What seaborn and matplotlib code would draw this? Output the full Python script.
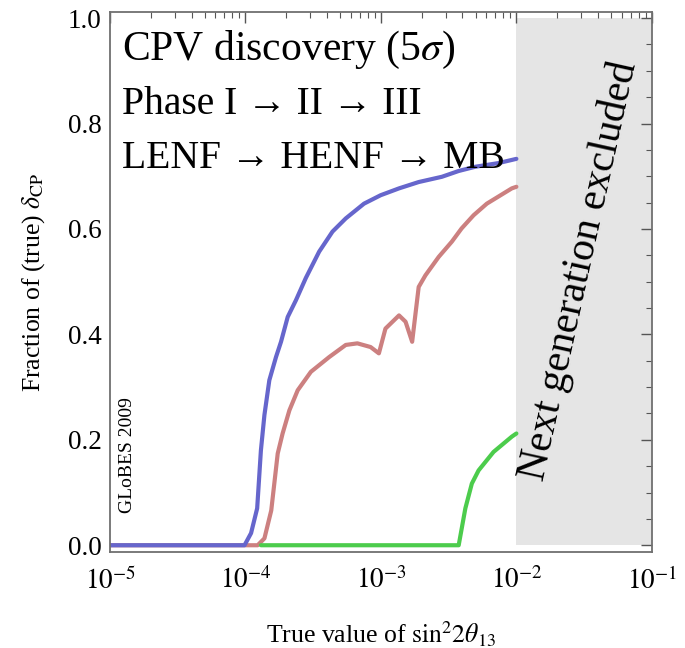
import matplotlib
matplotlib.use("Agg")
import matplotlib.pyplot as plt
import matplotlib.ticker as mticker
import numpy as np
import pandas as pd
import seaborn as sns

# values (x = true sin^2 2theta13, y = fraction of delta_CP)
blue_x = [1e-5, 9.84e-5, 1.10e-4, 1.22e-4, 1.30e-4, 1.38e-4, 1.50e-4, 1.68e-4, 1.83e-4,
          2.05e-4, 2.36e-4, 2.79e-4, 3.50e-4, 4.39e-4, 5.50e-4, 7.50e-4, 9.95e-4,
          1.36e-3, 1.90e-3, 2.82e-3, 3.75e-3, 4.97e-3, 7.38e-3, 1e-2]
blue_y = [0.0, 0.0, 0.023, 0.070, 0.180, 0.247, 0.313, 0.357, 0.386,
          0.433, 0.465, 0.507, 0.557, 0.595, 0.620, 0.648, 0.664,
          0.677, 0.689, 0.699, 0.710, 0.718, 0.725, 0.733]

red_x = [1e-5, 1.23e-4, 1.38e-4, 1.55e-4, 1.73e-4, 1.88e-4, 2.11e-4, 2.43e-4, 3.04e-4,
         4.15e-4, 5.50e-4, 6.70e-4, 8.39e-4, 9.66e-4, 1.08e-3, 1.36e-3, 1.52e-3,
         1.70e-3, 1.90e-3, 2.13e-3, 2.67e-3, 3.34e-3, 3.94e-3, 4.83e-3, 6.05e-3,
         9.25e-3, 1e-2]
red_y = [0.0, 0.0, 0.013, 0.066, 0.174, 0.212, 0.256, 0.294, 0.329,
         0.357, 0.380, 0.383, 0.376, 0.364, 0.411, 0.436, 0.424,
         0.386, 0.490, 0.512, 0.547, 0.576, 0.601, 0.626, 0.648,
         0.677, 0.680]

green_x = [1.30e-4, 3.75e-3, 4.20e-3, 4.69e-3, 5.26e-3, 6.78e-3, 9.25e-3, 1e-2]
green_y = [0.0, 0.0, 0.070, 0.117, 0.142, 0.177, 0.206, 0.212]

excluded_range = [1e-2, 1e-1]

sns.set_style("white")
plt.rcParams['font.family'] = ['Liberation Serif', 'DejaVu Serif']
plt.rcParams['mathtext.fontset'] = 'stix'
plt.rcParams['text.color'] = 'black'
plt.rcParams['axes.labelcolor'] = 'black'
plt.rcParams['xtick.labelcolor'] = 'black'
plt.rcParams['ytick.labelcolor'] = 'black'

df = pd.concat([
    pd.DataFrame({'x': red_x, 'y': red_y, 'exp': 'Phase II'}),
    pd.DataFrame({'x': green_x, 'y': green_y, 'exp': 'Phase I'}),
    pd.DataFrame({'x': blue_x, 'y': blue_y, 'exp': 'Phase III'}),
])
palette = {'Phase II': '#cc8080', 'Phase I': '#4ccc4c', 'Phase III': '#6666cc'}

fig = plt.figure(figsize=(6.85, 6.48), dpi=100)
ax = fig.add_axes([0.1606, 0.148, 0.791, 0.833])

ax.fill_between(excluded_range, 0, 1, color='#e5e5e5', lw=0, zorder=0)
sns.lineplot(data=df, x='x', y='y', hue='exp', palette=palette, lw=3,
             legend=False, sort=False, estimator=None, ax=ax)

ax.set_xscale('log')
ax.set_xlim(1e-5, 1e-1)
ax.set_ylim(-0.013, 1.011)
ax.set_yticks([0.0, 0.2, 0.4, 0.6, 0.8, 1.0])
ax.yaxis.set_minor_locator(mticker.MultipleLocator(0.05))
ax.yaxis.set_major_formatter(mticker.FormatStrFormatter('%.1f'))
ax.xaxis.set_major_formatter(mticker.FuncFormatter(lambda v, p: r'$10^{%d}$' % round(np.log10(v))))

for s in ax.spines.values():
    s.set_color('#707070')
    s.set_linewidth(1.3)
ax.tick_params(which='both', direction='in', top=True, right=True, color='#555555',
               labelsize=19.5, pad=6)
ax.tick_params(which='major', length=8, width=1)
ax.tick_params(which='minor', length=4, width=0.8)
ax.tick_params(axis='x', which='major', pad=11)

ax.set_xlabel(r'True value of $\sin^2\!2\theta_{13}$', fontsize=18.5, labelpad=18)
ax.set_ylabel(r'Fraction of (true) $\delta_{\mathrm{CP}}$', fontsize=18.5, labelpad=15)

ax.text(0.022, 0.93, r'CPV discovery (5$\sigma$)', transform=ax.transAxes, fontsize=30, va='center')
ax.text(0.022, 0.83, 'Phase I → II → III', transform=ax.transAxes, fontsize=28.5, va='center')
ax.text(0.022, 0.73, 'LENF → HENF → MB', transform=ax.transAxes, fontsize=28.5, va='center')
ax.text(0.033, 0.18, 'GLoBES 2009', transform=ax.transAxes, fontsize=14, rotation=90,
        ha='center', va='center')
ax.text(0.029, 0.52, 'Next generation excluded', fontsize=30, family=['Liberation Serif'],
        rotation=77.5, ha='center', va='center', rotation_mode='anchor')

fig.savefig('out.png', dpi=100)
